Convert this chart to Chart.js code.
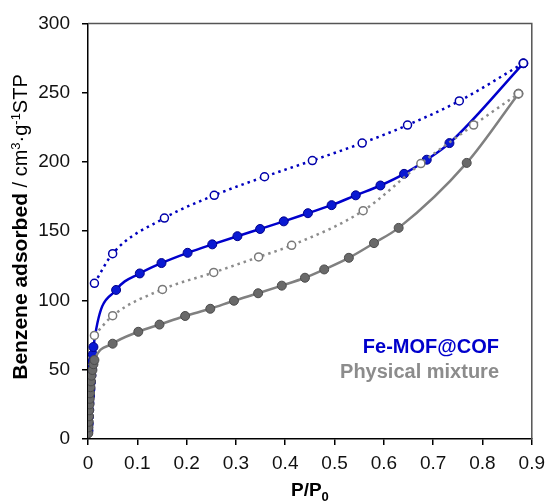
<!DOCTYPE html>
<html>
<head>
<meta charset="utf-8">
<script src="https://cdn.jsdelivr.net/npm/chart.js@4"></script>
<style>
  body { margin: 0; background: #fff; }
  #wrap { width: 552px; height: 502px; }
</style>
</head>
<body>
<div id="wrap"><canvas id="myChart"></canvas></div>
<script>
// Fe-MOF@COF adsorption (filled blue)
var mofAdsX = [0.001, 0.0015, 0.002, 0.0025, 0.003, 0.004, 0.005, 0.006, 0.007, 0.008, 0.009, 0.010, 0.011,
               0.057, 0.105, 0.149, 0.202, 0.252, 0.303, 0.349, 0.397, 0.446, 0.494, 0.543, 0.593, 0.641, 0.687, 0.733, 0.883];
var mofAdsY = [6, 11, 16, 21, 26, 31, 36, 41, 46, 51, 56, 61, 66.4,
               107.6, 119.5, 127, 134.4, 140.5, 146.4, 151.6, 157.1, 163, 168.8, 175.9, 183, 191.4, 201.6, 213.6, 271.2];
// Fe-MOF@COF desorption (open blue)
var mofDesX = [0.013, 0.05, 0.155, 0.256, 0.358, 0.455, 0.556, 0.648, 0.753, 0.883];
var mofDesY = [112.4, 133.8, 159.5, 175.9, 189.3, 201, 213.6, 226.6, 244, 271.2];
// Physical mixture adsorption (filled gray)
var mixAdsX = [0.0006, 0.001, 0.0015, 0.002, 0.0025, 0.003, 0.0035, 0.004, 0.005, 0.006, 0.007, 0.009, 0.011, 0.013,
               0.05, 0.102, 0.145, 0.197, 0.248, 0.296, 0.345, 0.393, 0.44, 0.479, 0.529, 0.58, 0.63, 0.768, 0.873];
var mixAdsY = [4.1, 8.4, 12.4, 16.4, 20.7, 25, 29, 33, 37.4, 41.6, 45.7, 49.8, 54, 57,
               68.8, 77.4, 82.6, 88.8, 94, 99.8, 105.2, 110.7, 116.4, 122.4, 130.8, 141.4, 152.4, 199.3, 249.3];
// Physical mixture desorption (open gray)
var mixDesX = [0.013, 0.05, 0.151, 0.255, 0.346, 0.413, 0.558, 0.675, 0.782, 0.873];
var mixDesY = [74.8, 89, 108, 120.2, 131.4, 139.8, 164.8, 198.8, 226.6, 249.3];

var xTicks = [0, 0.1, 0.2, 0.3, 0.4, 0.5, 0.6, 0.7, 0.8, 0.9];
var yTicks = [0, 50, 100, 150, 200, 250, 300];

var FONT = "'Liberation Sans', Arial, sans-serif";

function pts(xs, ys) {
    return xs.map((x, i) => ({x: x, y: ys[i]}));
}

// titles, legend text and the box around the plot
var extras = {
    id: 'extras',
    afterDraw(chart) {
        var c = chart.ctx, a = chart.chartArea;
        c.save();
        c.strokeStyle = '#555';
        c.lineWidth = 1.5;
        c.beginPath();
        c.moveTo(a.left, a.top);
        c.lineTo(a.right, a.top);
        c.lineTo(a.right, a.bottom);
        c.stroke();

        // legend
        c.textAlign = 'right';
        c.textBaseline = 'middle';
        c.font = 'bold 20px ' + FONT;
        c.fillStyle = '#0000cc';
        c.fillText('Fe-MOF@COF', 499, 347);
        c.fillStyle = '#8c8c8c';
        c.fillText('Physical mixture', 499, 372);

        // x title P/P0
        c.fillStyle = '#000';
        c.textAlign = 'left';
        c.textBaseline = 'alphabetic';
        c.font = 'bold 19px ' + FONT;
        var w1 = c.measureText('P/P').width;
        c.font = 'bold 13px ' + FONT;
        var w2 = c.measureText('0').width;
        var sx = (a.left + a.right) / 2 - (w1 + w2) / 2;
        c.font = 'bold 19px ' + FONT;
        c.fillText('P/P', sx, 496);
        c.font = 'bold 13px ' + FONT;
        c.fillText('0', sx + w1, 501);

        // y title
        var parts = [
            {t: 'Benzene adsorbed', f: 'bold 21px ', dy: 0},
            {t: ' / cm', f: '20px ', dy: 0},
            {t: '3', f: '13px ', dy: -7},
            {t: '\u00b7g', f: '20px ', dy: 0},
            {t: '-1', f: '13px ', dy: -7},
            {t: 'STP', f: '20px ', dy: 0}
        ];
        var total = 0;
        parts.forEach(p => { c.font = p.f + FONT; p.w = c.measureText(p.t).width; total += p.w; });
        c.translate(27, 227);
        c.rotate(-Math.PI / 2);
        var px = -total / 2;
        parts.forEach(p => {
            c.font = p.f + FONT;
            c.fillText(p.t, px, p.dy);
            px += p.w;
        });
        c.restore();
    }
};

var ctx = document.getElementById('myChart');
var myChart = new Chart(ctx, {
    type: 'scatter',
    data: {
        datasets: [{
            label: 'Fe-MOF@COF des',
            data: pts(mofDesX, mofDesY),
            showLine: true,
            borderColor: 'rgb(0, 0, 190)',
            borderDash: [2.5, 4],
            borderWidth: 2.5,
            pointBackgroundColor: '#fff',
            pointBorderColor: 'rgb(0, 0, 170)',
            pointBorderWidth: 1.5,
            pointRadius: 4,
            cubicInterpolationMode: 'monotone',
            order: 1
        }, {
            label: 'Physical mixture des',
            data: pts(mixDesX, mixDesY),
            showLine: true,
            borderColor: 'rgb(140, 140, 140)',
            borderDash: [2.5, 4],
            borderWidth: 2.5,
            pointBackgroundColor: '#fff',
            pointBorderColor: 'rgb(120, 120, 120)',
            pointBorderWidth: 1.5,
            pointRadius: 4,
            cubicInterpolationMode: 'monotone',
            order: 2
        }, {
            label: 'Physical mixture ads',
            data: pts(mixAdsX, mixAdsY),
            showLine: true,
            borderColor: 'rgb(128, 128, 128)',
            borderWidth: 2.5,
            pointBackgroundColor: 'rgb(105, 105, 105)',
            pointBorderColor: 'rgb(75, 75, 75)',
            pointBorderWidth: 1,
            pointRadius: 4.5,
            cubicInterpolationMode: 'monotone',
            order: 3
        }, {
            label: 'Fe-MOF@COF ads',
            data: pts(mofAdsX, mofAdsY),
            showLine: true,
            borderColor: 'rgb(0, 0, 204)',
            borderWidth: 2.5,
            pointBackgroundColor: 'rgb(10, 25, 210)',
            pointBorderColor: 'rgb(0, 0, 140)',
            pointBorderWidth: 1,
            pointRadius: 4.5,
            cubicInterpolationMode: 'monotone',
            order: 4
        }]
    },
    options: {
        responsive: true,
        maintainAspectRatio: false,
        animation: false,
        layout: { padding: { top: 19, right: 14, left: 0, bottom: 0 } },
        plugins: { legend: { display: false }, tooltip: { enabled: false } },
        scales: {
            x: {
                type: 'linear',
                min: 0,
                max: 0.9,
                afterBuildTicks: (s) => { s.ticks = xTicks.map(v => ({value: v})); },
                afterFit: (s) => { s.height = 63; },
                ticks: {
                    font: { family: FONT, size: 19 },
                    color: '#111',
                    padding: 7,
                    maxRotation: 0,
                    callback: (v) => v === 0 ? '0' : v.toFixed(1)
                },
                grid: { drawOnChartArea: false, tickLength: 6, color: '#000', lineWidth: 1.5 },
                border: { color: '#000', width: 1.5 }
            },
            y: {
                min: 0,
                max: 300,
                afterBuildTicks: (s) => { s.ticks = yTicks.map(v => ({value: v})); },
                afterFit: (s) => { s.width = 88; },
                ticks: {
                    font: { family: FONT, size: 19 },
                    color: '#111',
                    padding: 12
                },
                grid: { drawOnChartArea: false, tickLength: 6, color: '#000', lineWidth: 1.5 },
                border: { color: '#000', width: 1.5 }
            }
        }
    },
    plugins: [extras]
});
</script>
</body>
</html>
